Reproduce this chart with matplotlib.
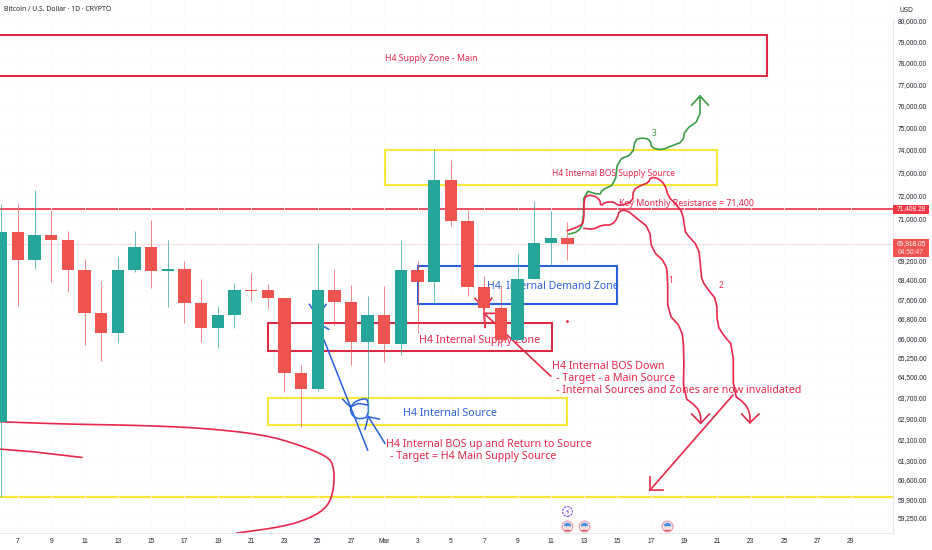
import matplotlib
matplotlib.use("Agg")
import matplotlib.pyplot as plt
import numpy as np
from matplotlib.patches import Rectangle
from matplotlib.ticker import FixedLocator, NullLocator

# daily candles, bar 0 is the 7th
bars = list(range(-1, 34))
opens = [62770, 70420, 69225, 70265, 70070, 68810, 67050, 66220, 68810, 69760, 68780, 68850,
         67460, 66435, 66960, 67965, 67965, 67640, 64635, 64040, 67990, 67490, 65875, 66970,
         65780, 68795, 68310, 72645, 70880, 68115, 67245, 65950, 68435, 69940, 70165]
closes = [70420, 69225, 70265, 70070, 68810, 67050, 66220, 68810, 69760, 68780, 68850, 67460,
          66435, 66960, 67965, 67950, 67640, 64635, 64025, 67990, 67490, 65875, 66970, 65780,
          68795, 68310, 72645, 70880, 68115, 67245, 65950, 68435, 69940, 70165, 69885]
highs = [71610, 71610, 72220, 71350, 70460, 69255, 68365, 69395, 70460, 70920, 70070, 69170,
         68433, 67325, 68257, 68670, 68230, 67650, 64960, 69955, 68835, 68185, 67735, 68155,
         70070, 69195, 74030, 73545, 71350, 68557, 68175, 69465, 71740, 71310, 70820]
lows = [59970, 67325, 68860, 68310, 67910, 65745, 65120, 65845, 68725, 68075, 67295, 66625,
        65860, 65650, 66445, 67530, 67190, 63910, 62570, 63960, 66555, 64950, 63025, 65090,
        65345, 66220, 67435, 70665, 67745, 66475, 65690, 65950, 68435, 69015, 69225]

x_ticks = list(range(0, 52, 2))
x_labels = ["7", "9", "11", "13", "15", "17", "19", "21", "23", "25", "27", "Mar", "3", "5", "7",
            "9", "11", "13", "15", "17", "19", "21", "23", "25", "27", "29"]
y_ticks = [80000, 79000, 78000, 77000, 76000, 75000, 74000, 73000, 72000, 71000, 69200, 68400,
           67600, 66800, 66000, 65250, 64500, 63700, 62900, 62100, 61300, 60600, 59900, 59250]

resistance = 71408.28
last_price = 69918.05
support = 59970

# zones: left bar, right bar, bottom price, top price
supply_main = (-2, 44.98, 77380, 79325)
bos_supply = (22.04, 41.98, 72460, 73990)
demand_zone = (24.0, 36.0, 67415, 68975)
supply_zone = (15.03, 32.05, 65515, 66625)
source_zone = (15.0, 33.0, 62640, 63670)

# hand drawn paths
green_bar = [33.09, 33.63, 33.95, 33.99, 34.95, 35.06, 35.86, 36.02, 36.92, 37.06, 37.55, 37.96,
             38.06, 38.66, 39.26, 39.92, 40.06, 40.96, 40.96]
green_price = [70320, 70420, 70780, 72220, 72000, 72220, 72490, 73545, 73810, 74470, 74540, 74440,
               74090, 73990, 74180, 74360, 74890, 75380, 76450]
green_head_bar = [40.46, 40.96, 41.46]
green_head_price = [76030, 76450, 76030]

red2_bar = [32.99, 33.75, 33.99, 33.99, 34.25, 34.65, 34.95, 35.0, 35.26, 35.75, 36.11, 36.92, 36.95,
            37.36, 37.86, 38.0, 38.46, 38.86, 39.06, 39.56, 39.92, 40.06, 40.12, 40.86, 41.0, 41.06,
            41.46, 41.96, 42.0, 42.36, 42.96, 42.96, 43.66, 43.96, 43.96]
red2_price = [70463, 70664, 70848, 71859, 72000, 71956, 71785, 71525, 71685, 71711, 71525, 71711, 72221,
              72410, 72540, 72780, 72735, 72440, 71925, 71568, 71210, 70493, 70350, 69783, 68945, 68392,
              67979, 67569, 66555, 66153, 65686, 63795, 63474, 63090, 62735]
red1_bar = [33.99, 34.55, 35.06, 35.66, 35.99, 36.11, 36.56, 37.16, 37.92, 38.06, 38.92, 39.02, 39.02,
            39.86, 40.0, 39.96, 40.76, 41.0, 41.0]
red1_price = [70566, 70523, 70707, 70707, 70994, 71322, 71352, 70994, 70566, 69645, 69087, 68392, 67030,
              66420, 65555, 63730, 63344, 63025, 62735]
red_heads = [([40.46, 41.0, 41.52], [63065, 62710, 63065]),
             ([43.46, 43.96, 44.5], [63065, 62735, 63065]),
             ([37.96, 37.96, 38.72], [60692, 60227, 60227]),
             ([42.94, 37.96], [63795, 60227]),
             ([31.99, 27.99], [64530, 67028]),
             ([28.05, 27.99, 28.75], [66465, 67028, 67028]),
             ([27.45, 27.99, 28.45], [67640, 67230, 67640]),
             ([27.99, 28.05], [67230, 66465])]
curve_bar = [-1.08, 2.92, 6.91, 10.93, 14.71, 16.94, 18.62, 18.98, 18.98, 18.62, 17.54, 15.92, 13.15]
curve_price = [62770, 62680, 62640, 62540, 62290, 61890, 61455, 61085, 60300, 59625, 59207, 58907, 58683]
curve2_bar = [-1.08, 0.9, 3.83]
curve2_price = [61740, 61640, 61430]

blue_ring_bar = [19.98, 20.24, 20.64, 21.04, 21.04, 20.54, 20.14, 19.98, 19.98]
blue_ring_price = [63345, 63535, 63640, 63640, 62960, 62870, 62960, 63150, 63345]
blue_lines = [([18.38, 21.0], [65953, 61704]),
              ([19.98, 20.44, 21.04], [63345, 63470, 63409]),
              ([19.5, 19.98], [63630, 63320]),
              ([22.04, 21.04], [61955, 62960]),
              ([20.84, 21.04, 21.7], [62480, 62960, 62870]),
              ([17.5, 17.84], [67390, 67050]),
              ([18.5, 18.2], [67390, 67100]),
              ([18.38, 18.66], [66490, 66381])]

event_bars = [33, 34, 39]
event_price = 58935
flash_bar = 33
flash_price = 59450

RED = "#e8274b"
BLUE = "#2a5fdc"
YELLOW = "#f9e739"
GREEN = "#3a9d46"
FONT = "Noto Sans"


def chaikin(xs, ys, rounds=1):
    # rounds off the hand drawn look, works on bar / log price
    pts = np.column_stack([xs, np.log(ys)])
    for _ in range(rounds):
        q = 0.75 * pts[:-1] + 0.25 * pts[1:]
        r = 0.25 * pts[:-1] + 0.75 * pts[1:]
        mid = np.empty((2 * len(q), 2))
        mid[0::2] = q
        mid[1::2] = r
        pts = np.vstack([pts[0], mid, pts[-1]])
    return pts[:, 0], np.exp(pts[:, 1])


def note(x, y, text, color=RED, size=7.7, ha="left"):
    ax.text(x, y, text, color=color, fontsize=size, ha=ha, va="center", family=FONT, zorder=2)


def price_tag(lower, upper, color):
    # tag on the price axis, x in axes units, y in price
    ax.add_patch(Rectangle((1.0, lower), 36 / 893, upper - lower, transform=tag, facecolor=color,
                           edgecolor="none", clip_on=False, zorder=9))


def tag_text(price, text, color="white"):
    ax.text(1 + 18 / 893, price, text, transform=tag, color=color, fontsize=4.8, ha="center", va="center",
            family="Liberation Sans", clip_on=False, zorder=10)


fig = plt.figure(figsize=(9.32, 5.5), dpi=100)
ax = fig.add_axes([0, 17 / 550, 893 / 932, 533 / 550])
ax.set_yscale("log")
ax.set_xlim(-1.08, 52.55)
ax.set_ylim(58683, 81023)
tag = ax.get_yaxis_transform()

ax.yaxis.tick_right()
ax.yaxis.set_major_locator(FixedLocator(y_ticks))
ax.yaxis.set_minor_locator(NullLocator())
ax.set_yticklabels([f"{v:,.2f}" for v in y_ticks], fontsize=4.8, color="#20242e", family="Liberation Sans")
ax.set_xticks(x_ticks)
ax.set_xticklabels(x_labels, fontsize=4.8, color="#20242e", family="Liberation Sans")
ax.tick_params(length=0, pad=3.5)
ax.grid(True, color="#fbfbfc", linewidth=0.6, zorder=0)
for side in ("top", "left"):
    ax.spines[side].set_visible(False)
for side in ("right", "bottom"):
    ax.spines[side].set_color("#e6e8ee")
    ax.spines[side].set_linewidth(0.8)

ax.axhline(last_price, color="#f3dde0", linewidth=0.8, zorder=1)
ax.axhline(resistance, color="#f0405a", linewidth=1.3, zorder=1)
ax.axhline(support, color=YELLOW, linewidth=1.6, zorder=1)

for zone, col in [(supply_main, "#dc2a45"), (bos_supply, YELLOW), (demand_zone, BLUE),
                  (supply_zone, "#dc2a45"), (source_zone, YELLOW)]:
    left, right, bottom, top = zone
    ax.add_patch(Rectangle((left, bottom), right - left, top - bottom, fill=False, edgecolor=col,
                           linewidth=1.5, zorder=2))

ax.plot(*chaikin(green_bar, green_price), color=GREEN, linewidth=1.2, zorder=2)
ax.plot(green_head_bar, green_head_price, color=GREEN, linewidth=1.2, zorder=2)
ax.plot(*chaikin(red2_bar, red2_price), color=RED, linewidth=1.2, zorder=2)
ax.plot(*chaikin(red1_bar, red1_price), color=RED, linewidth=1.2, zorder=2)
for xs, ys in red_heads:
    ax.plot(xs, ys, color=RED, linewidth=1.2, zorder=2)
ax.plot(*chaikin(curve_bar, curve_price, 2), color=RED, linewidth=1.2, zorder=2)
ax.plot(curve2_bar, curve2_price, color=RED, linewidth=1.2, zorder=2)
ax.plot(*chaikin(blue_ring_bar, blue_ring_price), color=BLUE, linewidth=1.1, zorder=2)
for xs, ys in blue_lines:
    ax.plot(xs, ys, color=BLUE, linewidth=1.1, zorder=2)
ax.plot([33], [66710], marker="o", markersize=1, color=RED, zorder=2)

for i, o, h, l, c in zip(bars, opens, highs, lows, closes):
    col = "#26a69a" if c >= o else "#ef5350"
    ax.vlines(i, l, h, color=col, linewidth=0.7, alpha=0.7, zorder=4)
    ax.bar(i, max(abs(c - o), 25), bottom=min(o, c), width=0.74, color=col, linewidth=0, zorder=5)

note(24.8, 78181, "H4 Supply Zone - Main", size=6.3, ha="center")
note(35.77, 72925, "H4 Internal BOS Supply Source", size=6.1, ha="center")
note(36.1, 71635, "Key Monthly Resistance = 71,400", size=6.35)
note(28.17, 68143, "H4  Internal Demand Zone", color=BLUE, size=7.6)
note(24.08, 65933, "H4 Internal Supply Zone")
note(23.12, 63103, "H4 Internal Source", color=BLUE)
note(32.07, 64905, "H4 Internal BOS Down")
note(32.3, 64440, "- Target - a Main Source")
note(32.3, 63987, "- Internal Sources and Zones are now invalidated")
note(22.1, 61904, "H4 Internal BOS up and Return to Source")
note(22.34, 61463, "- Target = H4 Main Supply Source")
note(39.2, 68392, "1", size=6, ha="center")
note(42.2, 68185, "2", size=6, ha="center")
note(38.2, 74756, "3", color=GREEN, size=6, ha="center")

# economic event badges along the bottom
ax.scatter(event_bars, [event_price] * 3, s=60, facecolor="white", edgecolor="#eb9aa6", linewidth=0.9, zorder=6)
ax.plot(event_bars, [event_price] * 3, linestyle="none", marker="o", markersize=5.6, fillstyle="top",
        markerfacecolor="#4a90d9", markerfacecoloralt="#f6dfe1", markeredgewidth=0, zorder=7)
ax.plot(event_bars, [event_price * 0.9975] * 3, linestyle="none", marker="_", markersize=5, color="#e2505f",
        markeredgewidth=0.9, zorder=8)
ax.scatter([flash_bar], [flash_price], s=50, facecolor="white", edgecolor="#7b3fd6", linewidth=0.8,
           linestyle=(0, (2, 1)), zorder=6)
ax.text(flash_bar, flash_price, "\u26a1", color="#7b3fd6", fontsize=5.5, ha="center", va="center",
        family="DejaVu Sans", zorder=7)

fig.text(4 / 932, 1 - 9.5 / 550, "Bitcoin / U.S. Dollar \u00b7 1D \u00b7 CRYPTO", fontsize=4.9, color="#20242e",
         va="center", family=FONT)
fig.text(899 / 932, 1 - 10 / 550, "USD", fontsize=4.8, color="#20242e", va="center", family="Liberation Sans",
         bbox=dict(facecolor="white", edgecolor="none", pad=4))

price_tag(71180, 71581, "#f23645")
tag_text(resistance, f"{resistance:,.2f}")
price_tag(69364, 70122, "#ef5350")
tag_text(69900, f"{last_price:,.2f}")
tag_text(69540, "04:50:47", "#fde3e4")

fig.savefig("out.png", dpi=100)
